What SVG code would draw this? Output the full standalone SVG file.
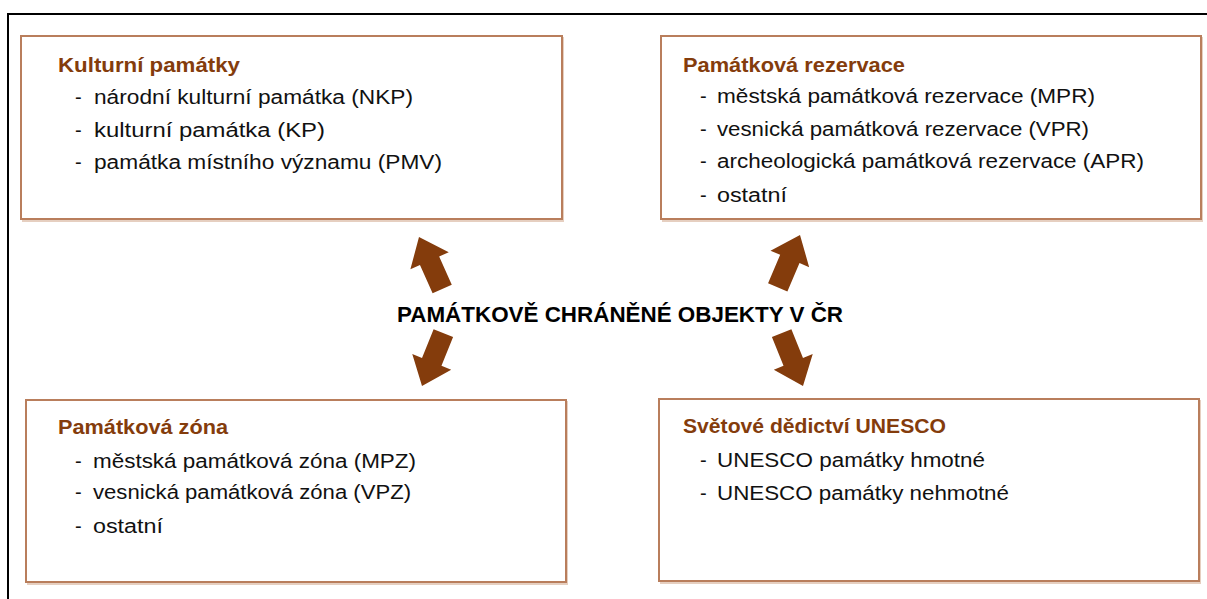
<svg xmlns="http://www.w3.org/2000/svg" width="1207" height="599" viewBox="0 0 1207 599">
  <style>
    .box { fill: #ffffff; stroke: #b97e5c; stroke-width: 2; }
    .shadow { fill: none; stroke: #e6cfc0; stroke-width: 2; }
    .title { font-family: "Liberation Sans", "DejaVu Sans", sans-serif; font-size: 20px; font-weight: bold; fill: #843c0c; }
    .item { font-family: "Liberation Sans", "DejaVu Sans", sans-serif; font-size: 20px; fill: #111111; }
    .center { font-family: "Liberation Sans", "DejaVu Sans", sans-serif; font-size: 22px; font-weight: bold; fill: #000000; }
    .arrow { fill: #843c0c; }
  </style>
  <defs>
    <!-- block arrow pointing up, tip at the origin -->
    <path id="blockArrow" d="M0,0 L21,26 L10.5,26 L10.5,57 L-10.5,57 L-10.5,26 L-21,26 Z"/>
  </defs>

  <rect width="1207" height="599" fill="#ffffff"/>

  <!-- outer frame (top and left edges) -->
  <g id="frame" stroke="#000000" stroke-width="2" fill="none">
    <line x1="8" y1="14" x2="1207" y2="14"/>
    <line x1="8" y1="13" x2="8" y2="599"/>
  </g>

  <g id="center-title">
    <text class="center" x="397" y="322" textLength="446" lengthAdjust="spacingAndGlyphs">PAMÁTKOVĚ CHRÁNĚNÉ OBJEKTY V ČR</text>
  </g>

  <g id="connectors">
    <use href="#blockArrow" class="arrow" transform="translate(419,237) rotate(-24)"/>
    <use href="#blockArrow" class="arrow" transform="translate(800,235) rotate(23)"/>
    <use href="#blockArrow" class="arrow" transform="translate(422,386) rotate(-158)"/>
    <use href="#blockArrow" class="arrow" transform="translate(803,386) rotate(158)"/>
  </g>

  <g id="kulturni-pamatky">
    <rect class="shadow" x="23" y="38" width="540" height="183"/>
    <rect class="box" x="21" y="36" width="541" height="183"/>
    <text class="title" x="58" y="72" textLength="182" lengthAdjust="spacingAndGlyphs">Kulturní památky</text>
    <text class="item" x="75" y="104">-</text>
    <text class="item" x="94" y="104" textLength="319" lengthAdjust="spacingAndGlyphs">národní kulturní památka (NKP)</text>
    <text class="item" x="75" y="137">-</text>
    <text class="item" x="94" y="137" textLength="231" lengthAdjust="spacingAndGlyphs">kulturní památka (KP)</text>
    <text class="item" x="75" y="169">-</text>
    <text class="item" x="94" y="169" textLength="348" lengthAdjust="spacingAndGlyphs">památka místního významu (PMV)</text>
  </g>

  <g id="pamatkova-rezervace">
    <rect class="shadow" x="663" y="38" width="539" height="183"/>
    <rect class="box" x="661" y="36" width="540" height="183"/>
    <text class="title" x="683" y="72" textLength="222" lengthAdjust="spacingAndGlyphs">Památková rezervace</text>
    <text class="item" x="700" y="103">-</text>
    <text class="item" x="717" y="103" textLength="378" lengthAdjust="spacingAndGlyphs">městská památková rezervace (MPR)</text>
    <text class="item" x="700" y="136">-</text>
    <text class="item" x="717" y="136" textLength="372" lengthAdjust="spacingAndGlyphs">vesnická památková rezervace (VPR)</text>
    <text class="item" x="700" y="168">-</text>
    <text class="item" x="717" y="168" textLength="427" lengthAdjust="spacingAndGlyphs">archeologická památková rezervace (APR)</text>
    <text class="item" x="700" y="202">-</text>
    <text class="item" x="717" y="202" textLength="70" lengthAdjust="spacingAndGlyphs">ostatní</text>
  </g>

  <g id="pamatkova-zona">
    <rect class="shadow" x="28" y="402" width="539" height="182"/>
    <rect class="box" x="26" y="400" width="540" height="182"/>
    <text class="title" x="58" y="434" textLength="170" lengthAdjust="spacingAndGlyphs">Památková zóna</text>
    <text class="item" x="75" y="468">-</text>
    <text class="item" x="93" y="468" textLength="323" lengthAdjust="spacingAndGlyphs">městská památková zóna (MPZ)</text>
    <text class="item" x="75" y="499">-</text>
    <text class="item" x="93" y="499" textLength="318" lengthAdjust="spacingAndGlyphs">vesnická památková zóna (VPZ)</text>
    <text class="item" x="75" y="533">-</text>
    <text class="item" x="93" y="533" textLength="70" lengthAdjust="spacingAndGlyphs">ostatní</text>
  </g>

  <g id="svetove-dedictvi">
    <rect class="shadow" x="661" y="401" width="539" height="182"/>
    <rect class="box" x="659" y="399" width="540" height="182"/>
    <text class="title" x="683" y="433" textLength="263" lengthAdjust="spacingAndGlyphs">Světové dědictví UNESCO</text>
    <text class="item" x="700" y="467">-</text>
    <text class="item" x="717" y="467" textLength="268" lengthAdjust="spacingAndGlyphs">UNESCO památky hmotné</text>
    <text class="item" x="700" y="500">-</text>
    <text class="item" x="717" y="500" textLength="292" lengthAdjust="spacingAndGlyphs">UNESCO památky nehmotné</text>
  </g>
</svg>
